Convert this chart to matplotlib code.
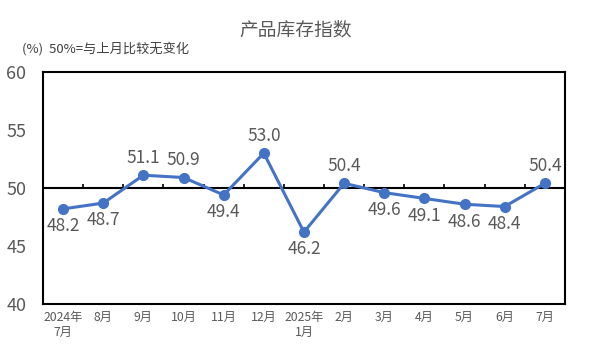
import numpy as np
import matplotlib
matplotlib.use("Agg")
import matplotlib.pyplot as plt

plt.rcParams['font.family'] = ['Noto Sans CJK SC', 'DejaVu Sans']

months = ["2024年\n7月", "8月", "9月", "10月", "11月", "12月", "2025年\n1月",
          "2月", "3月", "4月", "5月", "6月", "7月"]
values = [48.2, 48.7, 51.1, 50.9, 49.4, 53.0, 46.2, 50.4, 49.6, 49.1, 48.6, 48.4, 50.4]
# label above (True) or below (False) the point
label_above = [False, False, True, True, False, True, False, True, False, False, False, False, True]

line_color = "#4472C4"
text_color = "#595959"

fig = plt.figure(figsize=(5.91, 3.54), dpi=100)
ax = fig.add_axes([0.0728, 0.141, 0.883, 0.656])

x = np.arange(len(values))
ax.plot(x, values, color=line_color, linewidth=2.2, marker='o', markersize=7, zorder=3)

for xi, v, up in zip(x, values, label_above):
    if up:
        ax.annotate(f"{v:.1f}", (xi, v), xytext=(0, 6), textcoords="offset points",
                    ha="center", va="bottom", fontsize=12.5, color=text_color)
    else:
        ax.annotate(f"{v:.1f}", (xi, v), xytext=(0, -6), textcoords="offset points",
                    ha="center", va="top", fontsize=12.5, color=text_color)

# 50 reference line with small upward ticks between months
ax.axhline(50, color="black", linewidth=1.5, zorder=2)
ax.vlines(x[:-1] + 0.5, 50, 50.35, color="black", linewidth=1.2, zorder=2)

ax.set_xlim(-0.5, len(values) - 0.5)
ax.set_ylim(40, 60)
ax.set_yticks([40, 45, 50, 55, 60])
ax.tick_params(axis='y', length=0, labelsize=13, labelcolor=text_color, pad=12)
ax.set_xticks(x)
ax.set_xticklabels(months, fontsize=8.8, color=text_color, linespacing=1.2)
ax.tick_params(axis='x', length=0, pad=5)
for lbl in ax.get_xticklabels():
    lbl.set_verticalalignment("top")

for s in ax.spines.values():
    s.set_color("black")
    s.set_linewidth(1.5)

fig.text(0.5, 0.915, "产品库存指数", ha="center", va="center", fontsize=13.5, color=text_color)
fig.text(0.038, 0.862, "(%)  50%=与上月比较无变化", ha="left", va="center", fontsize=9.5, color="#404040")

fig.savefig("out.png", dpi=100)
